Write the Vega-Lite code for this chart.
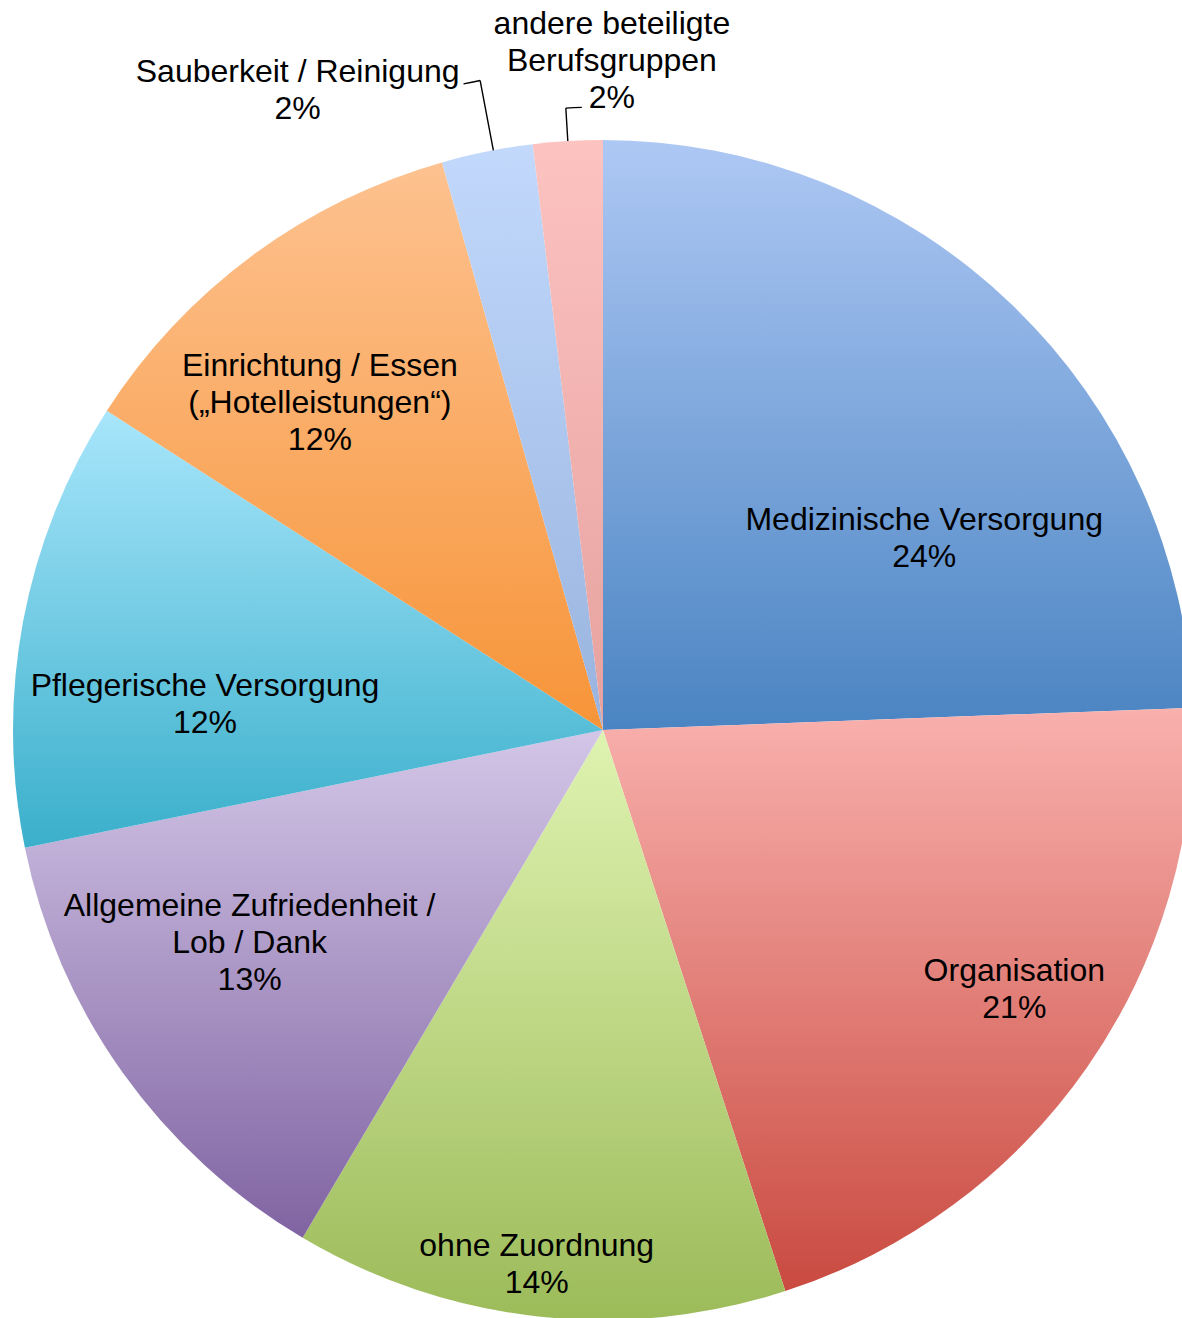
{
  "$schema": "https://vega.github.io/schema/vega-lite/v6.json",
  "width": 1182,
  "height": 1318,
  "padding": 0,
  "autosize": "none",
  "background": "white",
  "config": {"view": {"stroke": null}},
  "data": {
    "values": [
      {"order": 1, "cat": "Medizinische Versorgung", "v": 24.4, "label": "Medizinische Versorgung\n24%"},
      {"order": 2, "cat": "Organisation", "v": 20.6, "label": "Organisation\n21%"},
      {"order": 3, "cat": "ohne Zuordnung", "v": 13.5, "label": "ohne Zuordnung\n14%"},
      {"order": 4, "cat": "Allgemeine Zufriedenheit / Lob / Dank", "v": 13.3, "label": "Allgemeine Zufriedenheit /\nLob / Dank\n13%"},
      {"order": 5, "cat": "Pflegerische Versorgung", "v": 12.3, "label": "Pflegerische Versorgung\n12%"},
      {"order": 6, "cat": "Einrichtung / Essen („Hotelleistungen“)", "v": 11.5, "label": "Einrichtung / Essen\n(„Hotelleistungen“)\n12%"},
      {"order": 7, "cat": "Sauberkeit / Reinigung", "v": 2.5, "label": "Sauberkeit / Reinigung\n2%"},
      {"order": 8, "cat": "andere beteiligte Berufsgruppen", "v": 1.9, "label": "andere beteiligte\nBerufsgruppen\n2%"}
    ]
  },
  "encoding": {
    "theta": {"field": "v", "type": "quantitative", "stack": true},
    "order": {"field": "order", "type": "quantitative"},
    "detail": {"field": "cat", "type": "nominal"},
    "x": {"value": 603},
    "y": {"value": 730}
  },
  "layer": [
    {
      "mark": {"type": "arc", "outerRadius": 590, "stroke": null},
      "encoding": {
        "fill": {
          "condition": [
            {"test": "datum.order === 1", "value": {"gradient": "linear", "x1": 0, "y1": 0, "x2": 0, "y2": 1, "stops": [{"offset": 0, "color": "#aec8f4"}, {"offset": 1, "color": "#4a84c2"}]}},
            {"test": "datum.order === 2", "value": {"gradient": "linear", "x1": 0, "y1": 0, "x2": 0, "y2": 1, "stops": [{"offset": 0, "color": "#f9b1ae"}, {"offset": 1, "color": "#c94a40"}]}},
            {"test": "datum.order === 3", "value": {"gradient": "linear", "x1": 0, "y1": 0, "x2": 0, "y2": 1, "stops": [{"offset": 0, "color": "#dff3b1"}, {"offset": 1, "color": "#9cbb59"}]}},
            {"test": "datum.order === 4", "value": {"gradient": "linear", "x1": 0, "y1": 0, "x2": 0, "y2": 1, "stops": [{"offset": 0, "color": "#d3c6e7"}, {"offset": 1, "color": "#8064a2"}]}},
            {"test": "datum.order === 5", "value": {"gradient": "linear", "x1": 0, "y1": 0, "x2": 0, "y2": 1, "stops": [{"offset": 0, "color": "#a8e6fb"}, {"offset": 1, "color": "#3aafcb"}]}},
            {"test": "datum.order === 6", "value": {"gradient": "linear", "x1": 0, "y1": 0, "x2": 0, "y2": 1, "stops": [{"offset": 0, "color": "#fdc290"}, {"offset": 1, "color": "#f79438"}]}},
            {"test": "datum.order === 7", "value": {"gradient": "linear", "x1": 0, "y1": 0, "x2": 0, "y2": 1, "stops": [{"offset": 0, "color": "#c2d9fc"}, {"offset": 1, "color": "#98b3de"}]}}
          ],
          "value": {"gradient": "linear", "x1": 0, "y1": 0, "x2": 0, "y2": 1, "stops": [{"offset": 0, "color": "#fcc3c1"}, {"offset": 1, "color": "#e6a19e"}]}
        }
      }
    },
    {
      "mark": {"type": "arc", "innerRadius": 590, "outerRadius": 661, "padAngle": 3, "thetaOffset": 0.011, "filled": false, "strokeWidth": 1.4},
      "encoding": {"stroke": {"condition": {"test": "datum.order === 7", "value": "#000000"}, "value": null}}
    },
    {
      "mark": {"type": "arc", "innerRadius": 661, "outerRadius": 661, "padAngle": 0.09287, "thetaOffset": -0.00185, "filled": false, "strokeWidth": 1.4},
      "encoding": {"stroke": {"condition": {"test": "datum.order === 7", "value": "#000000"}, "value": null}}
    },
    {
      "mark": {"type": "arc", "innerRadius": 590, "outerRadius": 623, "padAngle": 3, "filled": false, "strokeWidth": 1.4},
      "encoding": {"stroke": {"condition": {"test": "datum.order === 8", "value": "#000000"}, "value": null}}
    },
    {
      "mark": {"type": "arc", "innerRadius": 623, "outerRadius": 623, "padAngle": 0.06623, "thetaOffset": 0.01284, "filled": false, "strokeWidth": 1.4},
      "encoding": {"stroke": {"condition": {"test": "datum.order === 8", "value": "#000000"}, "value": null}}
    },
    {
      "mark": {"type": "text", "radius": 375, "thetaOffset": 0.262, "dy": -16, "fontSize": 32, "font": "Liberation Sans", "lineBreak": "\n", "lineHeight": 37, "baseline": "middle", "align": "center", "color": "black"},
      "encoding": {"text": {"condition": {"test": "datum.order === 1", "field": "label"}, "value": ""}}
    },
    {
      "mark": {"type": "text", "radius": 485, "thetaOffset": -0.051, "dy": -16, "fontSize": 32, "font": "Liberation Sans", "lineBreak": "\n", "lineHeight": 37, "baseline": "middle", "align": "center", "color": "black"},
      "encoding": {"text": {"condition": {"test": "datum.order === 2", "field": "label"}, "value": ""}}
    },
    {
      "mark": {"type": "text", "radius": 536, "thetaOffset": 0.014, "dy": -16, "fontSize": 32, "font": "Liberation Sans", "lineBreak": "\n", "lineHeight": 37, "baseline": "middle", "align": "center", "color": "black"},
      "encoding": {"text": {"condition": {"test": "datum.order === 3", "field": "label"}, "value": ""}}
    },
    {
      "mark": {"type": "text", "radius": 412, "thetaOffset": 0.079, "dy": -35.5, "fontSize": 32, "font": "Liberation Sans", "lineBreak": "\n", "lineHeight": 37, "baseline": "middle", "align": "center", "color": "black"},
      "encoding": {"text": {"condition": {"test": "datum.order === 4", "field": "label"}, "value": ""}}
    },
    {
      "mark": {"type": "text", "radius": 399, "thetaOffset": -0.116, "dy": -16, "fontSize": 32, "font": "Liberation Sans", "lineBreak": "\n", "lineHeight": 37, "baseline": "middle", "align": "center", "color": "black"},
      "encoding": {"text": {"condition": {"test": "datum.order === 5", "field": "label"}, "value": ""}}
    },
    {
      "mark": {"type": "text", "radius": 434, "thetaOffset": -0.073, "dy": -35.5, "fontSize": 32, "font": "Liberation Sans", "lineBreak": "\n", "lineHeight": 37, "baseline": "middle", "align": "center", "color": "black"},
      "encoding": {"text": {"condition": {"test": "datum.order === 6", "field": "label"}, "value": ""}}
    },
    {
      "mark": {"type": "text", "radius": 711, "thetaOffset": -0.246, "dy": -16, "fontSize": 32, "font": "Liberation Sans", "lineBreak": "\n", "lineHeight": 37, "baseline": "middle", "align": "center", "color": "black"},
      "encoding": {"text": {"condition": {"test": "datum.order === 7", "field": "label"}, "value": ""}}
    },
    {
      "mark": {"type": "text", "radius": 671, "thetaOffset": 0.073, "dy": -35.5, "fontSize": 32, "font": "Liberation Sans", "lineBreak": "\n", "lineHeight": 37, "baseline": "middle", "align": "center", "color": "black"},
      "encoding": {"text": {"condition": {"test": "datum.order === 8", "field": "label"}, "value": ""}}
    }
  ]
}
